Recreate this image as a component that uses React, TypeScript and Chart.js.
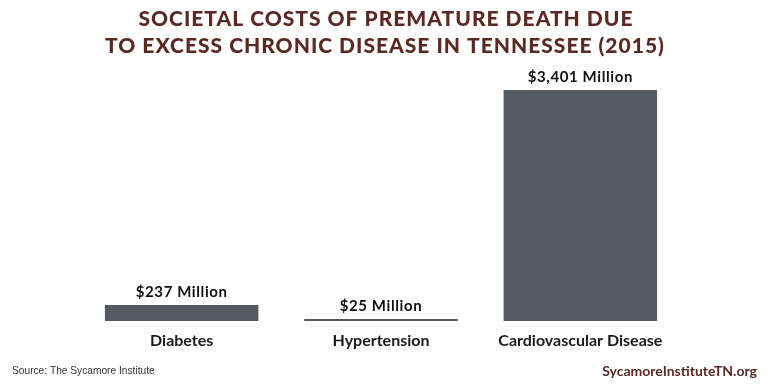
import React, { useEffect, useRef } from "react";
import { Chart, registerables } from "chart.js";

Chart.register(...registerables);

const categories = ["Diabetes", "Hypertension", "Cardiovascular Disease"];
const costs = [237, 25, 3401];
const valueLabels = ["$237 Million", "$25 Million", "$3,401 Million"];
const titleLines = [
  "SOCIETAL COSTS OF PREMATURE DEATH DUE",
  "TO EXCESS CHRONIC DISEASE IN TENNESSEE (2015)",
];
const sourceText = "Source: The Sycamore Institute";
const siteText = "SycamoreInstituteTN.org";

const BROWN = "#5b2822";
const BAR = "#555b62";

const decorPlugin = {
  id: "decor",
  afterDatasetsDraw(chart: any) {
    const ctx = chart.ctx;
    const meta = chart.getDatasetMeta(0);
    ctx.save();
    ctx.fillStyle = "#111";
    ctx.font = "bold 15px Lato, 'Open Sans', sans-serif";
    (ctx as any).letterSpacing = "0.6px";
    ctx.textAlign = "center";
    ctx.textBaseline = "alphabetic";
    meta.data.forEach((el: any, i: number) => {
      ctx.fillText(valueLabels[i], el.x, el.y - 8);
    });
    ctx.restore();
  },
  afterDraw(chart: any) {
    const ctx = chart.ctx;
    const w = chart.width;
    ctx.save();
    ctx.fillStyle = BROWN;
    ctx.font = "900 21px Lato, 'Open Sans', sans-serif";
    (ctx as any).letterSpacing = "1px";
    ctx.textAlign = "center";
    ctx.textBaseline = "middle";
    ctx.fillText(titleLines[0], w / 2 + 2, 19);
    ctx.fillText(titleLines[1], w / 2 + 1, 46);
    (ctx as any).letterSpacing = "0px";
    ctx.textAlign = "left";
    ctx.fillStyle = "#333";
    ctx.font = "10.2px 'Liberation Sans', Arial, sans-serif";
    ctx.fillText(sourceText, 12, 371);
    ctx.textAlign = "right";
    ctx.fillStyle = BROWN;
    ctx.font = "bold 14px Lato, 'Open Sans', sans-serif";
    ctx.fillText(siteText, 757, 371);
    ctx.restore();
  },
};

export default function App() {
  const ref = useRef<HTMLCanvasElement | null>(null);
  useEffect(() => {
    if (!ref.current) return;
    const chart = new Chart(ref.current, {
      type: "bar",
      data: {
        labels: categories,
        datasets: [
          {
            data: costs,
            backgroundColor: BAR,
            borderWidth: 0,
            categoryPercentage: 0.77,
            barPercentage: 1,
            minBarLength: 2,
          },
        ],
      },
      options: {
        animation: false,
        responsive: false,
        maintainAspectRatio: false,
        layout: { padding: { left: 82, right: 88, top: 90, bottom: 23 } },
        plugins: {
          legend: { display: false },
          title: { display: false },
          tooltip: { enabled: false },
        },
        scales: {
          y: { display: false, min: 0, max: 3401 },
          x: {
            grid: { display: false, drawTicks: false },
            border: { display: false },
            ticks: {
              color: "#1a1a1a",
              padding: 10,
              font: { family: "Lato, 'Open Sans', sans-serif", weight: "bold", size: 16 },
            },
            afterFit: (scale: any) => {
              scale.height = 40;
            },
          },
        },
      },
      plugins: [decorPlugin],
    });
    return () => chart.destroy();
  }, []);
  return (
    <div style={{ position: "fixed", left: 0, top: 0, width: 768, height: 384, background: "#fff" }}>
      <canvas ref={ref} width={768} height={384} style={{ width: 768, height: 384, display: "block" }} />
    </div>
  );
}
